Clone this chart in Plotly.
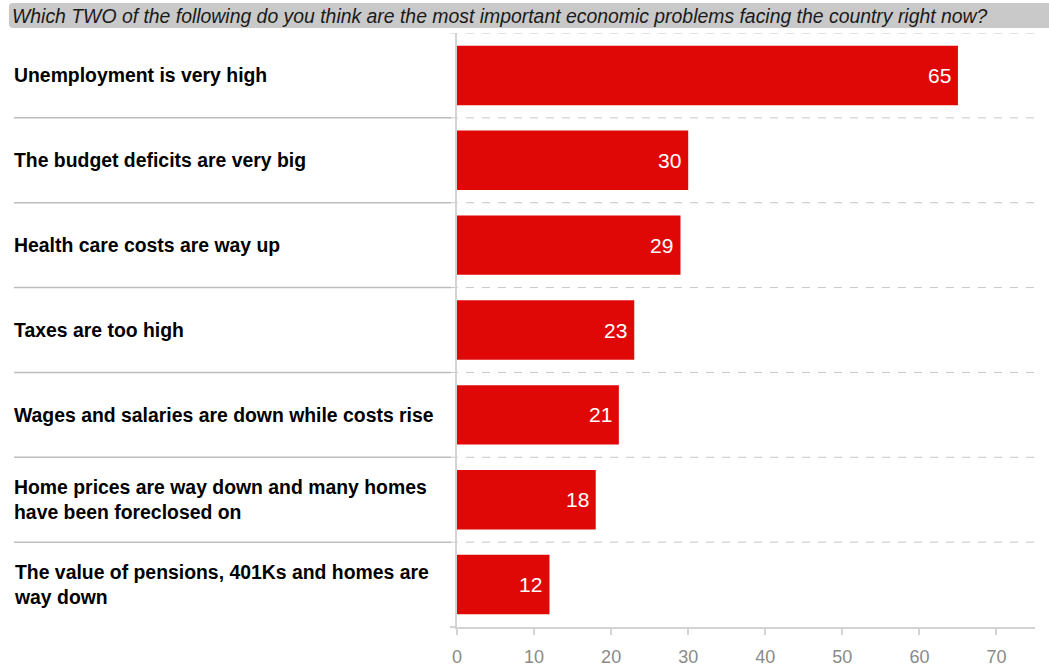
import plotly.graph_objects as go

categories = [
    "Unemployment is very high",
    "The budget deficits are very big",
    "Health care costs are way up",
    "Taxes are too high",
    "Wages and salaries are down while costs rise",
    "Home prices are way down and many homes<br>have been foreclosed on",
    "The value of pensions, 401Ks and homes are<br>way down",
]
values = [65, 30, 29, 23, 21, 18, 12]
tick_values = [0, 10, 20, 30, 40, 50, 60, 70]
title_text = "Which TWO of the following do you think are the most important economic problems facing the country right now?"

W, H = 1049, 666
PL, PR, PT, PB = 457, 1035, 33, 627          # plot area in screen pixels
L, R, T, B = PL, W - PR, PT, H - PB
PW = PR - PL
PH = PB - PT

def px_x(p):
    return (p - PL) / PW

def px_y(p):
    return (PB - p) / PH

FONT = "Liberation Sans, Arial, sans-serif"
BAR = "#DF0806"

ypos = list(range(len(categories)))

fig = go.Figure()
fig.add_trace(go.Bar(
    x=values, y=ypos, orientation="h",
    marker=dict(color=BAR, line=dict(width=0)),
    width=0.7, hoverinfo="skip",
))

annotations = []
for i, (c, v) in enumerate(zip(categories, values)):
    annotations.append(dict(
        x=v, y=i, xref="x", yref="y", text=str(v), showarrow=False,
        xanchor="right", yanchor="middle", xshift=-5,
        font=dict(family=FONT, size=21, color="white"),
    ))
    annotations.append(dict(
        x=px_x(12), y=i, xref="paper", yref="y", text="<b>" + c + "</b>",
        showarrow=False, xanchor="left", yanchor="middle", align="left",
        font=dict(family=FONT, size=19.4, color="black"),
    ))

annotations.append(dict(
    x=px_x(10), y=px_y(16), xref="paper", yref="paper",
    text="<i>" + title_text + "</i>", showarrow=False,
    xanchor="left", yanchor="middle",
    font=dict(family=FONT, size=19.4, color="#1a1a1a"),
))

shapes = []
# title bar with rounded left corners
x0, x1 = px_x(9), px_x(W + 4)
yt, yb = px_y(3), px_y(28)
rx, ry = 4 / PW, 4 / PH
path = (f"M {x0+rx},{yt} L {x1},{yt} L {x1},{yb} L {x0+rx},{yb} "
        f"Q {x0},{yb} {x0},{yb+ry} L {x0},{yt-ry} Q {x0},{yt} {x0+rx},{yt} Z")
shapes.append(dict(type="path", path=path, xref="paper", yref="paper",
                   fillcolor="#C9C9C9", line=dict(width=0), layer="below"))

n = len(categories)
for k in range(n):
    yb_ = k - 0.5
    shapes.append(dict(type="line", xref="paper", yref="y",
                       x0=px_x(450), x1=1, y0=yb_, y1=yb_,
                       line=dict(color="#C8C8C8", width=1, dash="8px,8px"),
                       layer="below"))
    if k > 0:
        shapes.append(dict(type="line", xref="paper", yref="y",
                           x0=px_x(14), x1=px_x(451), y0=yb_, y1=yb_,
                           line=dict(color="#BDBDBD", width=1.5),
                           layer="below"))
# axis line extension to the left of zero
shapes.append(dict(type="line", xref="paper", yref="paper",
                   x0=px_x(450), x1=0, y0=0, y1=0,
                   line=dict(color="#D3D3D3", width=2)))

fig.update_layout(
    width=W, height=H,
    margin=dict(l=L, r=R, t=T, b=B, pad=0, autoexpand=False),
    paper_bgcolor="white", plot_bgcolor="white",
    showlegend=False,
    annotations=annotations,
    shapes=shapes,
    xaxis=dict(
        range=[0, 75], tickvals=tick_values,
        showgrid=False, zeroline=False, automargin=False,
        showline=True, linecolor="#D3D3D3", linewidth=2,
        ticks="outside", ticklen=6, tickcolor="#D3D3D3", tickwidth=1.5,
        tickfont=dict(family=FONT, size=18, color="#8A8A8A"),
        ticklabelstandoff=6,
        fixedrange=True,
    ),
    yaxis=dict(
        range=[n - 0.5, -0.5], automargin=False,
        showgrid=False, zeroline=False, showticklabels=False,
        showline=True, linecolor="#D3D3D3", linewidth=2,
        fixedrange=True,
    ),
)

fig.write_html(
    "out.html",
    config={"displayModeBar": False},
    post_script="document.body.style.margin='0';document.body.style.overflow='hidden';",
)
